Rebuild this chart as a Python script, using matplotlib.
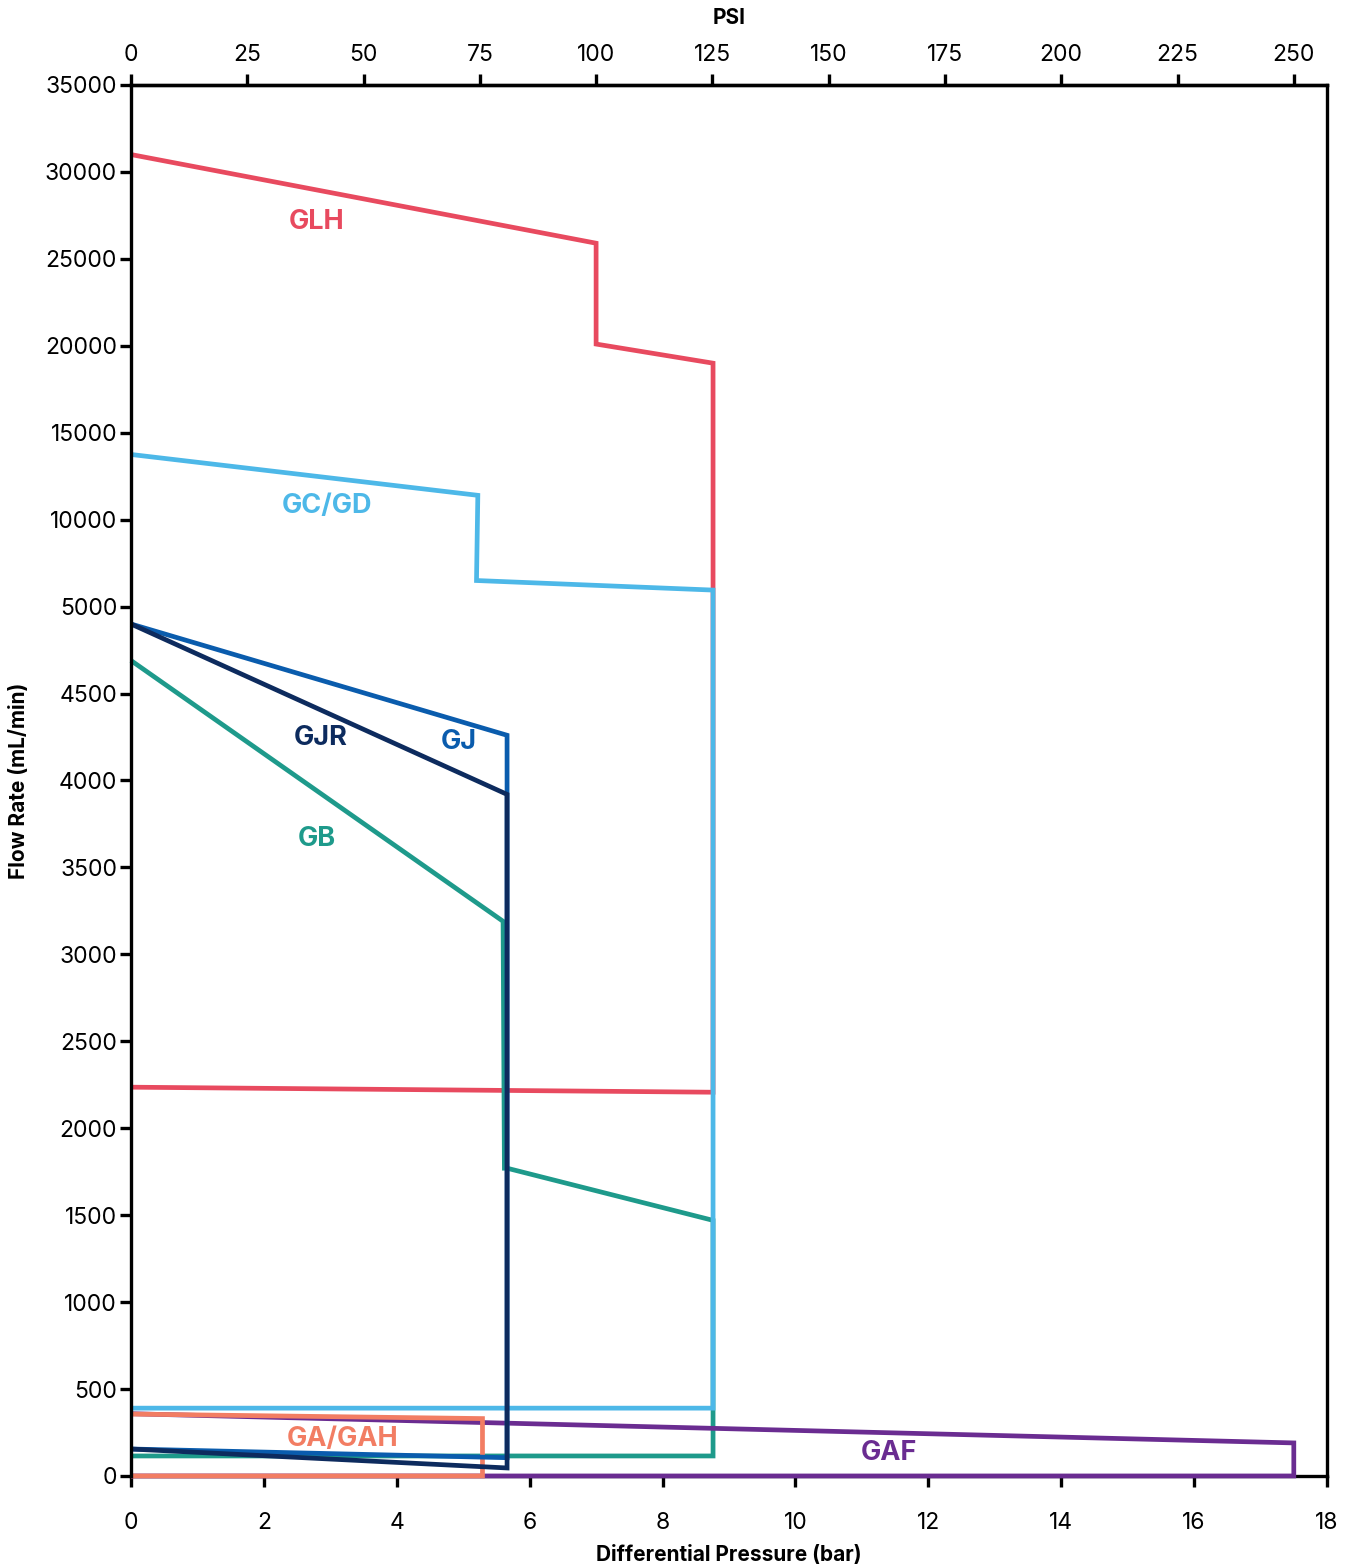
"""
Flow rate vs differential pressure envelopes per pump head.
Y axis is piecewise: 0-5000 in 500 steps, then 5000-35000 in 5000 steps.
"""
import numpy as np
import matplotlib
matplotlib.use("Agg")
import matplotlib.pyplot as plt

plt.rcParams["font.family"] = ["Inter", "DejaVu Sans"]

# ---------------- data (bar, mL/min) ----------------
glh_x = [0, 7.0, 7.0, 8.76, 8.76, 0]
glh_y = [31000, 25900, 20100, 19000, 2207, 2236]

gcgd_x = [0, 5.22, 5.20, 8.76, 8.76, 0]
gcgd_y = [13750, 11400, 6500, 5950, 390, 390]

gb_x = [0, 5.60, 5.62, 5.66, 8.76, 8.76, 0]
gb_y = [4690, 3190, 1770, 1770, 1470, 115, 115]

gj_x = [0, 5.66, 5.66, 0]
gj_y = [4900, 4260, 105, 155]

gjr_x = [0, 5.66, 5.66, 0]
gjr_y = [4900, 3920, 46, 155]

gaf_x = [0, 17.5, 17.5, 0]
gaf_y = [358, 190, 0, 0]

ga_x = [0, 5.29, 5.29, 0]
ga_y = [356, 330, 0, 0]

y_ticks = [0, 500, 1000, 1500, 2000, 2500, 3000, 3500, 4000, 4500, 5000,
           10000, 15000, 20000, 25000, 30000, 35000]
x_ticks = [0, 2, 4, 6, 8, 10, 12, 14, 16, 18]
psi_ticks = [0, 25, 50, 75, 100, 125, 150, 175, 200, 225, 250]
PSI_PER_BAR = 250 / 17.5

# label name, x, y, colour
labels = [
    ("GLH", 2.79, 27100, "#E84A5F"),
    ("GC/GD", 2.95, 10800, "#4DB8E8"),
    ("GJR", 2.86, 4247, "#0D2B5E"),
    ("GJ", 4.94, 4224, "#0A5CAD"),
    ("GB", 2.79, 3661, "#1E9A8B"),
    ("GA/GAH", 3.18, 210, "#F27D63"),
    ("GAF", 11.4, 132, "#6A2C91"),
]


# ---------------- piecewise y scale ----------------
def fwd(y):
    y = np.asarray(y, dtype=float)
    return np.where(y <= 5000, y / 500.0, 10 + (y - 5000) / 5000.0)


def inv(t):
    t = np.asarray(t, dtype=float)
    return np.where(t <= 10, t * 500.0, 5000 + (t - 10) * 5000.0)


fig = plt.figure(figsize=(13.53, 15.68), dpi=100)
ax = fig.add_axes([0.0968, 0.0587, 0.884, 0.8871])
ax.set_yscale("function", functions=(fwd, inv))

lw = 3.4
style = dict(lw=lw, solid_joinstyle="miter", solid_capstyle="butt",
             clip_on=False)
ax.plot(glh_x, glh_y, color="#E84A5F", zorder=2, **style)
ax.plot(gb_x, gb_y, color="#1E9A8B", zorder=2, **style)
ax.plot(gcgd_x, gcgd_y, color="#4DB8E8", zorder=3, **style)
ax.plot(gaf_x, gaf_y, color="#6A2C91", zorder=3, **style)
ax.plot(ga_x, ga_y, color="#F27D63", zorder=4, **style)
ax.plot(gj_x, gj_y, color="#0A5CAD", zorder=4, **style)
ax.plot(gjr_x, gjr_y, color="#0D2B5E", zorder=5, **style)

for name, lx, ly, col in labels:
    ax.text(lx, ly, name, color=col, fontsize=19.5, fontweight="bold",
            ha="center", va="center", zorder=6)

ax.set_xlim(0, 18)
ax.set_ylim(0, 35000)
ax.set_yticks(y_ticks)
ax.set_yticklabels([str(v) for v in y_ticks])
ax.set_xticks(x_ticks)

for sp in ax.spines.values():
    sp.set_linewidth(2.4)
    sp.set_zorder(1)
ax.spines["left"].set_zorder(8)
ax.tick_params(axis="both", direction="out", length=8, width=2.4,
               labelsize=16.5)
ax.tick_params(axis="y", pad=2)
ax.tick_params(axis="x", pad=18)

ax.set_xlabel("Differential Pressure (bar)", fontsize=15, fontweight="bold")
ax.xaxis.set_label_coords(0.5, -0.0496)
ax.set_ylabel("Flow Rate (mL/min)", fontsize=15, fontweight="bold")
ax.yaxis.set_label_coords(-0.0855, 0.5)

top = ax.secondary_xaxis("top", functions=(lambda b: b * PSI_PER_BAR,
                                           lambda p: p / PSI_PER_BAR))
top.set_xticks(psi_ticks)
top.tick_params(direction="out", length=8, width=2.4, labelsize=16.5, pad=5.5)
top.spines["top"].set_linewidth(2.4)
top.set_xlabel("PSI", fontsize=15, fontweight="bold")
top.xaxis.set_label_coords(0.5, 1.0439, transform=ax.transAxes)

fig.savefig("out.png", dpi=100)
